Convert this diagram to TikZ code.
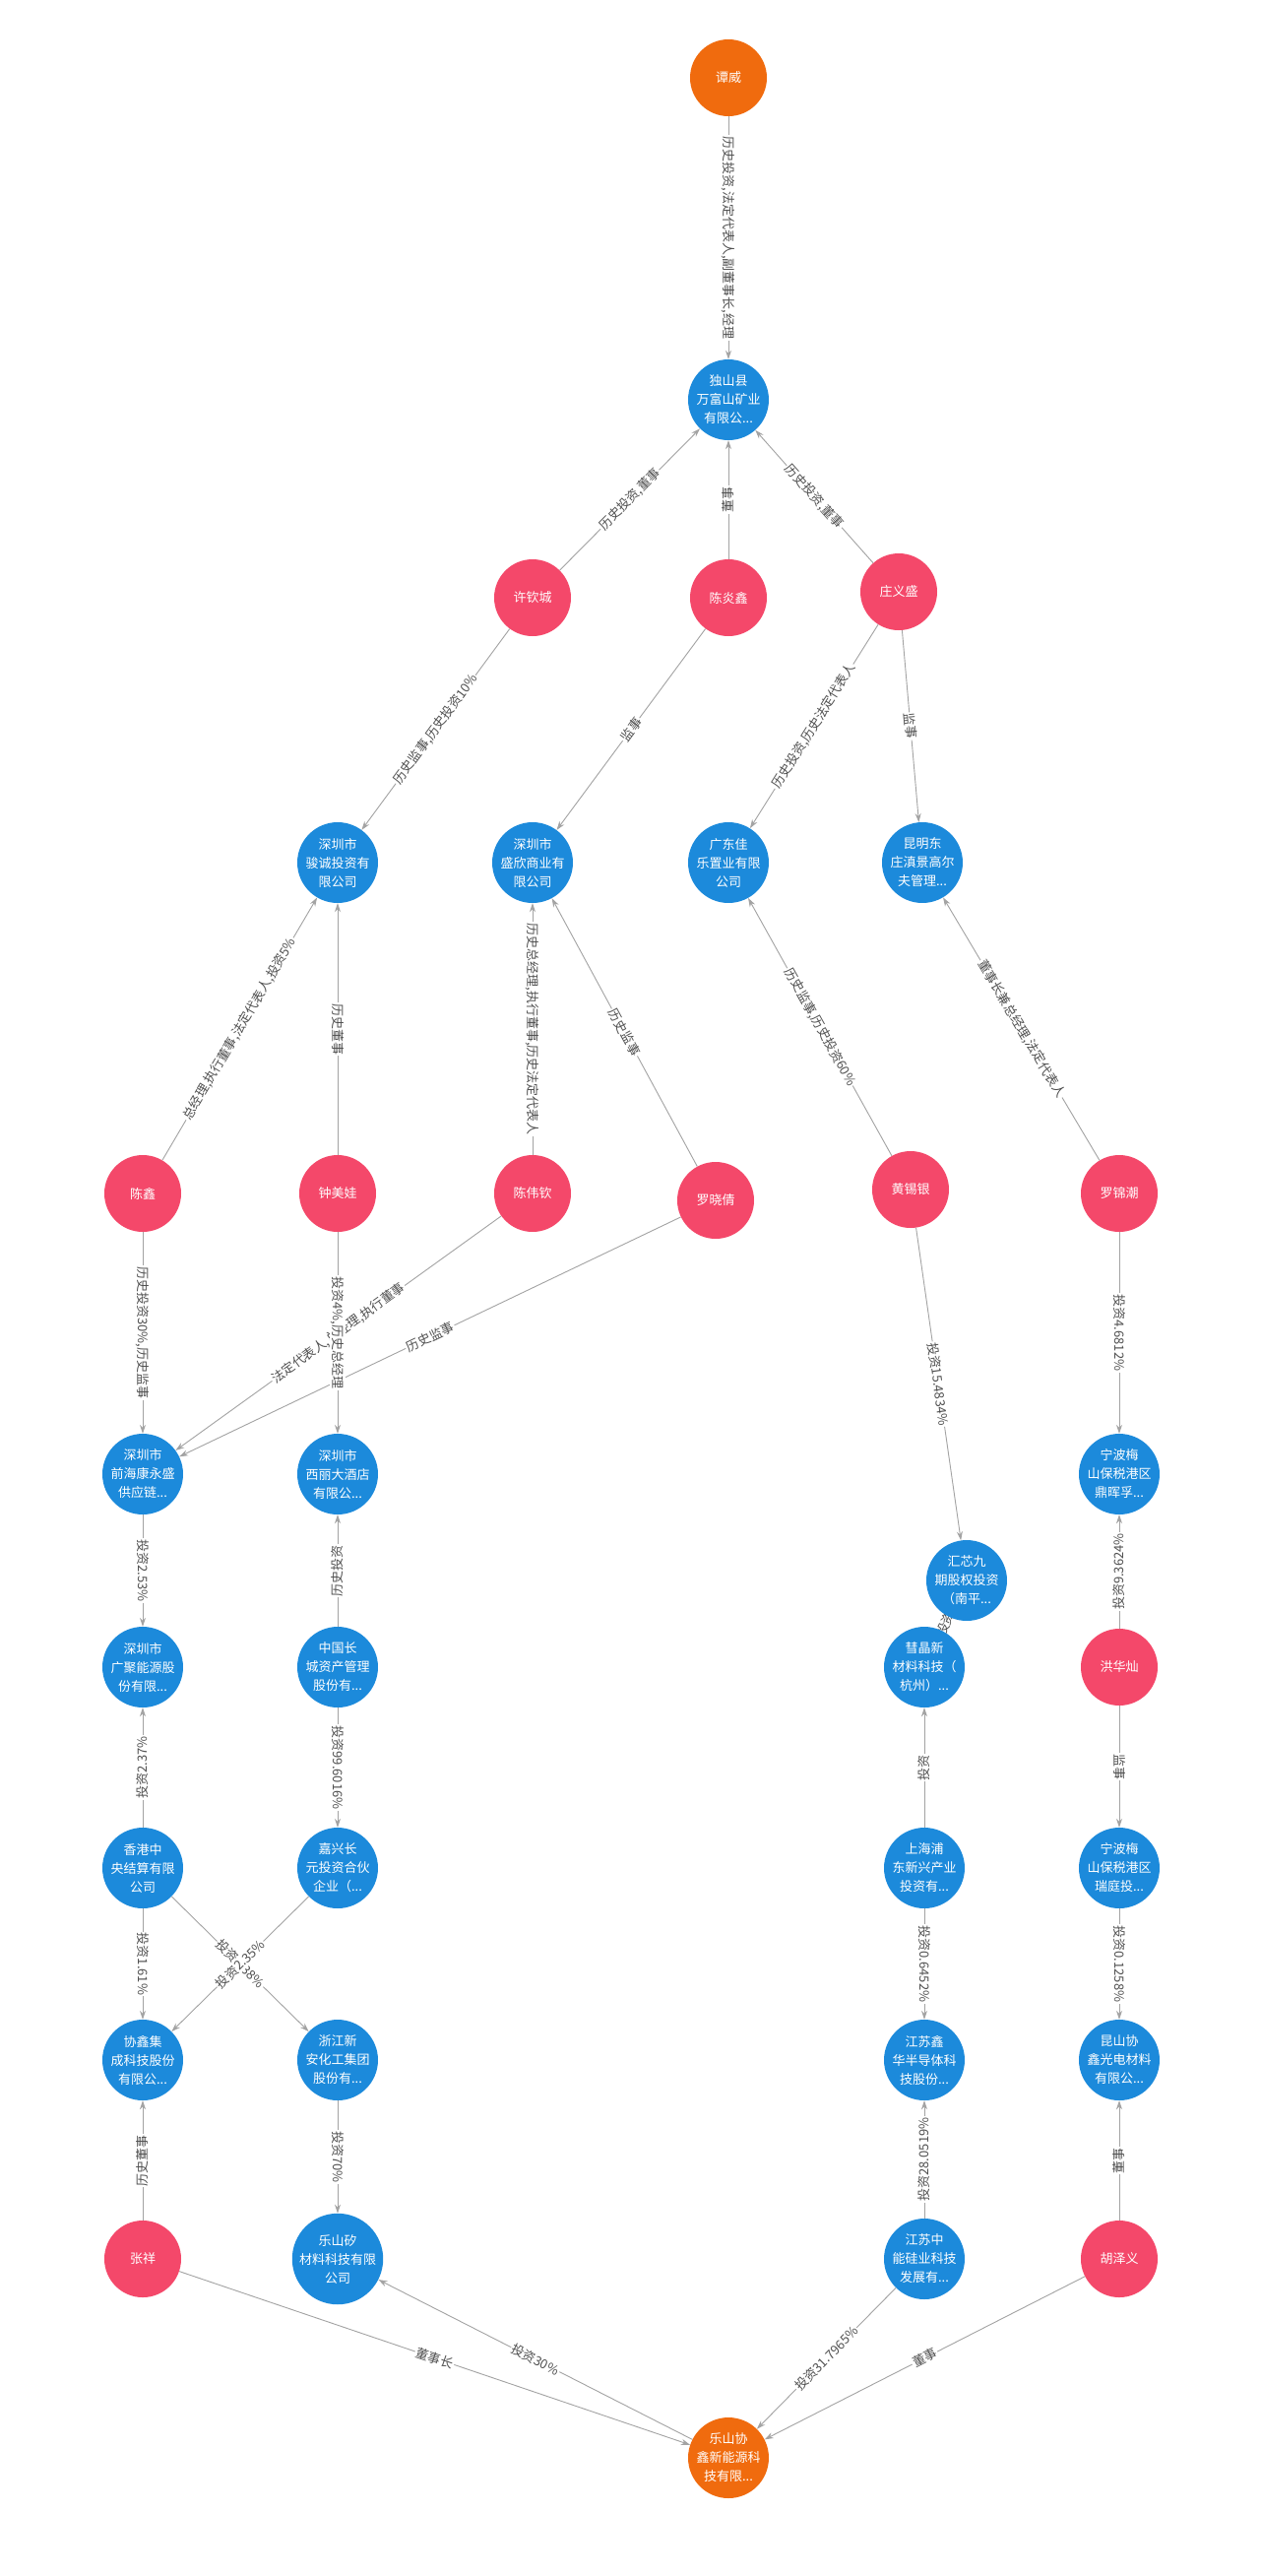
\documentclass[tikz,border=0pt]{standalone}
\usepackage{fontspec}
\setmainfont{Noto Sans CJK SC}
\usetikzlibrary{arrows.meta}
\pgfdeclarelayer{bg}
\pgfdeclarelayer{edges}
\pgfsetlayers{bg,edges,main}
\definecolor{cOrange}{HTML}{F06B0E}
\definecolor{cBlue}{HTML}{1C8ADB}
\definecolor{cRed}{HTML}{F4486A}
\definecolor{cEdge}{HTML}{A3A3A3}
\definecolor{cLbl}{HTML}{505050}
\begin{document}
\begin{tikzpicture}[x=1pt,y=-1pt,
  base/.style={circle, minimum size=78pt, inner sep=0pt, text=white, align=center,
    font=\fontsize{13}{19}\selectfont},
  org/.style={base, fill=cBlue},
  per/.style={base, fill=cRed},
  keyn/.style={base, fill=cOrange},
  link/.style={draw=cEdge, line width=0.9pt, -{Stealth[length=9pt,width=6pt]}},
  lbl/.style={fill=white, inner sep=1.2pt, text=cLbl, font=\fontsize{13}{13}\selectfont}]
\begin{pgfonlayer}{bg}
\fill[white] (0,0) rectangle (1280,2616);
\end{pgfonlayer}
\useasboundingbox (0,0) rectangle (1280,2616);

% nodes
\node[keyn] (tanwei) at (740,79) {谭威};
\node[org] (dushan) at (740,406) {独山县\\万富山矿业\\有限公...};
\node[per] (xuqc) at (541,607) {许钦城};
\node[per] (chenyx) at (740,607) {陈炎鑫};
\node[per] (zhuangys) at (913,601) {庄义盛};

\node[org] (juncheng) at (343,876) {深圳市\\骏诚投资有\\限公司};
\node[org] (shengxin) at (541,876) {深圳市\\盛欣商业有\\限公司};
\node[org] (jiale) at (740,876) {广东佳\\乐置业有限\\公司};
\node[org] (kunming) at (937,876) {昆明东\\庄滇景高尔\\夫管理...};

\node[per] (chenxin) at (145,1212) {陈鑫};
\node[per] (zhongmw) at (343,1212) {钟美娃};
\node[per] (chenwq) at (541,1212) {陈伟钦};
\node[per] (luoxq) at (727,1219) {罗晓倩};
\node[per] (huangxy) at (925,1208) {黄锡银};
\node[per] (luojc) at (1137,1212) {罗锦潮};

\node[org] (qianhai) at (145,1497) {深圳市\\前海康永盛\\供应链...};
\node[org] (xili) at (343,1497) {深圳市\\西丽大酒店\\有限公...};
\node[org] (dinghui) at (1137,1497) {宁波梅\\山保税港区\\鼎晖孚...};
\node[org] (huixin) at (982,1605) {汇芯九\\期股权投资\\（南平...};

\node[org] (guangju) at (145,1693) {深圳市\\广聚能源股\\份有限...};
\node[org] (changcheng) at (343,1693) {中国长\\城资产管理\\股份有...};
\node[org] (huijing) at (939,1693) {彗晶新\\材料科技（\\杭州）...};
\node[per] (honghc) at (1137,1693) {洪华灿};

\node[org] (hkcc) at (145,1897) {香港中\\央结算有限\\公司};
\node[org] (jiaxing) at (343,1897) {嘉兴长\\元投资合伙\\企业（...};
\node[org] (pudong) at (939,1897) {上海浦\\东新兴产业\\投资有...};
\node[org] (ruiting) at (1137,1897) {宁波梅\\山保税港区\\瑞庭投...};

\node[org] (xiexinjc) at (145,2092) {协鑫集\\成科技股份\\有限公...};
\node[org] (zhejiang) at (343,2092) {浙江新\\安化工集团\\股份有...};
\node[org] (xinhua) at (939,2092) {江苏鑫\\华半导体科\\技股份...};
\node[org] (kunshan) at (1137,2092) {昆山协\\鑫光电材料\\有限公...};

\node[per] (zhangxiang) at (145,2294) {张祥};
\node[org] (leshanxi) at (343,2294) {乐山矽\\材料科技有限\\公司};
\node[org] (zhongneng) at (939,2294) {江苏中\\能硅业科技\\发展有...};
\node[per] (huzeyi) at (1137,2294) {胡泽义};

\node[keyn] (leshanxy) at (740,2496) {乐山协\\鑫新能源科\\技有限...};

% edges
\begin{pgfonlayer}{edges}
\draw[link] (tanwei) -- node[lbl,rotate=-90] {历史投资,法定代表人,副董事长,经理} (dushan);
\draw[link] (xuqc) -- node[lbl,sloped] {历史投资,董事} (dushan);
\draw[link] (chenyx) -- node[lbl,rotate=90] {董事} (dushan);
\draw[link] (zhuangys) -- node[lbl,sloped] {历史投资,董事} (dushan);

\draw[link] (xuqc) -- node[lbl,sloped] {历史监事,历史投资10\%} (juncheng);
\draw[link] (chenyx) -- node[lbl,sloped] {监事} (shengxin);
\draw[link] (zhuangys) -- node[lbl,sloped] {历史投资,历史法定代表人} (jiale);
\draw[link] (zhuangys) -- node[lbl,sloped] {监事} (kunming);

\draw[link] (chenxin) -- node[lbl,sloped] {总经理,执行董事,法定代表人,投资5\%} (juncheng);
\draw[link] (zhongmw) -- node[lbl,rotate=-90] {历史董事} (juncheng);
\draw[link] (chenwq) -- node[lbl,rotate=-90] {历史总经理,执行董事,历史法定代表人} (shengxin);
\draw[link] (luoxq) -- node[lbl,sloped] {历史监事} (shengxin);
\draw[link] (huangxy) -- node[lbl,sloped] {历史监事,历史投资60\%} (jiale);
\draw[link] (luojc) -- node[lbl,sloped] {董事长兼总经理,法定代表人} (kunming);

\draw[link] (chenxin) -- node[lbl,rotate=-90] {历史投资30\%,历史监事} (qianhai);
\draw[link] (chenwq) -- node[lbl,sloped] {法定代表人,总经理,执行董事} (qianhai);
\draw[link] (luoxq) -- node[lbl,sloped] {历史监事} (qianhai);
\draw[link] (zhongmw) -- node[lbl,rotate=-90] {投资4\%,历史总经理} (xili);
\draw[link] (huangxy) -- node[lbl,sloped] {投资15.4834\%} (huixin);
\draw[link] (luojc) -- node[lbl,rotate=-90] {投资4.6812\%} (dinghui);

\draw[link] (qianhai) -- node[lbl,rotate=-90] {投资2.53\%} (guangju);
\draw[link] (changcheng) -- node[lbl,rotate=90] {历史投资} (xili);
\draw[link] (honghc) -- node[lbl,rotate=90] {投资9.3624\%} (dinghui);
\draw[link] (huixin) -- node[lbl,sloped] {投资} (huijing);

\draw[link] (hkcc) -- node[lbl,rotate=90] {投资2.37\%} (guangju);
\draw[link] (changcheng) -- node[lbl,rotate=-90] {投资99.6016\%} (jiaxing);
\draw[link] (pudong) -- node[lbl,rotate=90] {投资} (huijing);
\draw[link] (honghc) -- node[lbl,rotate=-90] {监事} (ruiting);

\draw[link] (hkcc) -- node[lbl,rotate=-90] {投资1.61\%} (xiexinjc);
\draw[link] (hkcc) -- node[lbl,sloped] {投资2.38\%} (zhejiang);
\draw[link] (jiaxing) -- node[lbl,sloped] {投资2.35\%} (xiexinjc);
\draw[link] (pudong) -- node[lbl,rotate=-90] {投资0.6452\%} (xinhua);
\draw[link] (ruiting) -- node[lbl,rotate=-90] {投资0.1258\%} (kunshan);

\draw[link] (zhangxiang) -- node[lbl,rotate=90] {历史董事} (xiexinjc);
\draw[link] (zhejiang) -- node[lbl,rotate=-90] {投资70\%} (leshanxi);
\draw[link] (zhongneng) -- node[lbl,rotate=90] {投资28.0519\%} (xinhua);
\draw[link] (huzeyi) -- node[lbl,rotate=90] {董事} (kunshan);

\draw[link] (zhangxiang) -- node[lbl,sloped] {董事长} (leshanxy);
\draw[link] (leshanxy) -- node[lbl,sloped] {投资30\%} (leshanxi);
\draw[link] (zhongneng) -- node[lbl,sloped] {投资31.7965\%} (leshanxy);
\draw[link] (huzeyi) -- node[lbl,sloped] {董事} (leshanxy);
\end{pgfonlayer}
\end{tikzpicture}
\end{document}
